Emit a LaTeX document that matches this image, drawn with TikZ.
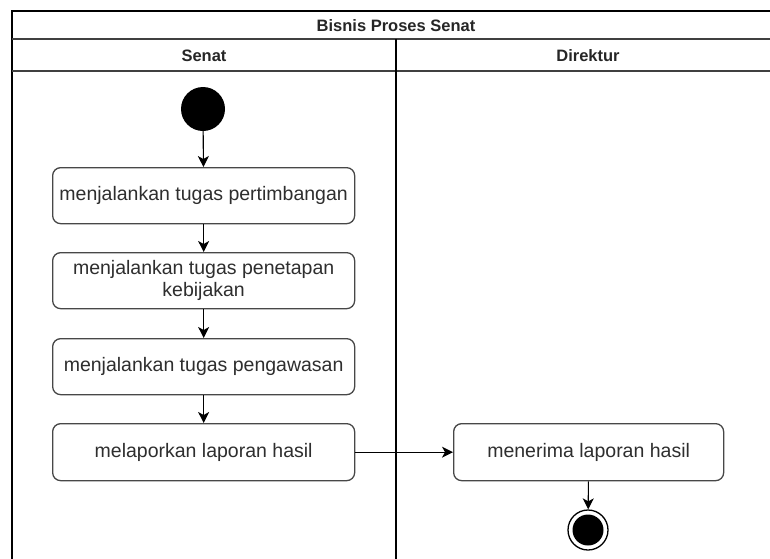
\documentclass[tikz,border=0pt]{standalone}
\usepackage{fontspec}
\setmainfont{Liberation Sans}
\usetikzlibrary{arrows.meta}
\begin{document}
\begin{tikzpicture}[x=1pt,y=-1pt,
  lane/.style={draw=black!75, line width=1.2pt},
  act/.style={draw=black!72, line width=1.3pt, rounded corners=8pt, fill=white,
    text=black!82, font=\fontsize{19.5}{22}\selectfont, align=center,
    inner sep=0pt, anchor=north west},
  head/.style={font=\bfseries\fontsize{16.5}{19}\selectfont, text=black!85},
  flow/.style={draw=black, line width=1.1pt, -{Stealth[length=11pt,width=11pt,inset=3pt]}},
]
\useasboundingbox (0,0) rectangle (770,558);
\begin{scope}
\clip (0,0) rectangle (770,558);
% pool with title and lane headers
\draw[lane, draw=black] (12,572) -- (12,11) -- (790,11);
\draw[lane] (12,39) -- (790,39);
\draw[lane] (12,71) -- (790,71);
\draw[lane, draw=black] (396,39) -- (396,572);
\node[head] (pool) at (396,26) {Bisnis Proses Senat};
\node[head] (lsenat) at (204,56) {Senat};
\node[head] (ldir) at (588,56) {Direktur};

% activities
\node[circle, fill=black, minimum size=44pt, inner sep=0pt] (start) at (203,109) {};
\node[act, minimum width=302pt, minimum height=56pt] (a1) at (52,167) {menjalankan tugas pertimbangan};
\node[act, minimum width=302pt, minimum height=56pt] (a2) at (52,252) {menjalankan tugas penetapan\\kebijakan};
\node[act, minimum width=302pt, minimum height=56pt] (a3) at (52,338) {menjalankan tugas pengawasan};
\node[act, minimum width=302pt, minimum height=57pt] (a4) at (52,423) {melaporkan laporan hasil};
\node[act, minimum width=270pt, minimum height=57pt] (b1) at (453,423) {menerima laporan hasil};
\node[circle, draw=black, line width=1.3pt, fill=white, minimum size=40pt, inner sep=0pt] (end) at (588,530) {};
\node[circle, fill=black, minimum size=31pt, inner sep=0pt] (endin) at (end.center) {};

% control flow
\draw[flow] (start) -- (a1);
\draw[flow] (a1) -- (a2);
\draw[flow] (a2) -- (a3);
\draw[flow] (a3) -- (a4);
\draw[flow] (a4) -- (b1);
\draw[flow] (b1) -- (end);
\end{scope}
\end{tikzpicture}
\end{document}
